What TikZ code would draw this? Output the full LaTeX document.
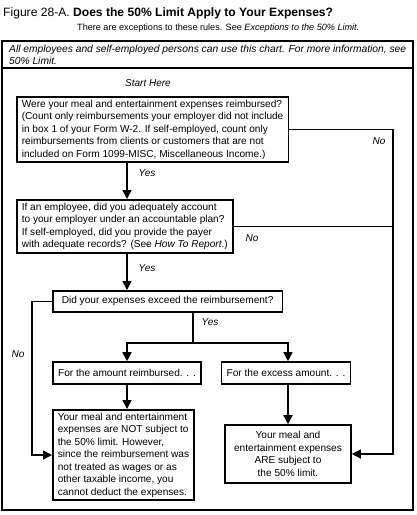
\documentclass[tikz,border=0pt]{standalone}
\usepackage{fontspec}
\setmainfont{Liberation Sans}
\usetikzlibrary{arrows.meta}
\begin{document}
\begin{tikzpicture}[x=1pt,y=-1pt,
  box/.style={draw, line width=1.6pt, inner xsep=5pt, inner ysep=3pt, font=\fontsize{10.1}{12.5}\selectfont, align=left},
  lab/.style={font=\fontsize{10}{12}\selectfont\itshape, inner sep=0pt},
  conn/.style={line width=1.5pt},
  thinconn/.style={line width=0.9pt},
  arr/.style={conn, -{Triangle[width=9pt,length=9pt]}},
]
\useasboundingbox (0,0) rectangle (416,515);
\node[anchor=west, inner sep=0pt, font=\fontsize{12.1}{14}\selectfont] (title) at (3,13) {Figure 28-A. \textbf{Does the 50\% Limit Apply to Your Expenses?}};
\node[anchor=west, inner sep=0pt, font=\fontsize{9.1}{11}\selectfont] (sub) at (77,28) {There are exceptions to these rules. See \textit{Exceptions to the 50\% Limit.}};
\draw[line width=1.5pt] (2,41) rectangle (413,510);
\draw[line width=1.5pt] (2,68) -- (413,68);
\node[anchor=north west, inner sep=0pt, align=left, font=\fontsize{10.25}{12}\selectfont\itshape] (note) at (9,45) {All employees and self-employed persons can use this chart. For more information, see\\50\% Limit.};
\node[lab] (start) at (148,83) {Start Here};
\coordinate (ax) at (127,0);
\coordinate (bx) at (288,0);
\coordinate (rx) at (393,0);
\coordinate (lx) at (32,0);
\node[box, anchor=north west] (b1) at (16,96) {Were your meal and entertainment expenses reimbursed?\\(Count only reimbursements your employer did not include\\in box 1 of your Form W-2. If self-employed, count only\\reimbursements from clients or customers that are not\\included on Form 1099-MISC, Miscellaneous Income.)};
\node[box, anchor=north west] (b2) at (16,199) {If an employee, did you adequately account\\to your employer under an accountable plan?\\If self-employed, did you provide the payer\\with adequate records? (See \textit{How To Report}.)};
\node[box, anchor=north west, minimum height=21pt, inner xsep=9pt] (b3) at (52,290) {Did your expenses exceed the reimbursement?};
\node[box, minimum height=22pt] (b4a) at (127,373) {For the amount reimbursed. . .};
\node[box, minimum height=22pt] (b4b) at (286,373) {For the excess amount. . .};
\node[box, anchor=north west] (b5) at (52,409) {Your meal and entertainment\\expenses are NOT subject to\\the 50\% limit. However,\\since the reimbursement was\\not treated as wages or as\\other taxable income, you\\cannot deduct the expenses.};
\node[box, align=center, minimum width=126pt, minimum height=58pt] (b6) at (288,454) {Your meal and\\entertainment expenses\\ARE subject to\\the 50\% limit.};
\coordinate (jn) at (193,343);
\draw[arr] (ax |- b1.south) -- (ax |- b2.north);
\draw[arr] (ax |- b2.south) -- (ax |- b3.north);
\draw[conn] (jn |- b3.south) -- (jn);
\draw[arr] (jn) -| (b4a.north);
\draw[arr] (jn) -| (bx |- b4b.north);
\draw[arr] (ax |- b4a.south) -- (ax |- b5.north);
\draw[arr] (bx |- b4b.south) -- (bx |- b6.north);
\draw[arr] (b1.east) -| (rx |- b6.east) -- (b6.east);
\draw[thinconn] (b2.east) -- (b2.east -| rx);
\draw[arr] (b3.west) -| (lx |- b5.west) -- (b5.west);
\node[lab] (yes1) at (147,173) {Yes};
\node[lab] (yes2) at (147,268) {Yes};
\node[lab] (yes3) at (210,322) {Yes};
\node[lab] (no1) at (379,141) {No};
\node[lab] (no2) at (252,238) {No};
\node[lab] (no3) at (18,354) {No};
\end{tikzpicture}
\end{document}
